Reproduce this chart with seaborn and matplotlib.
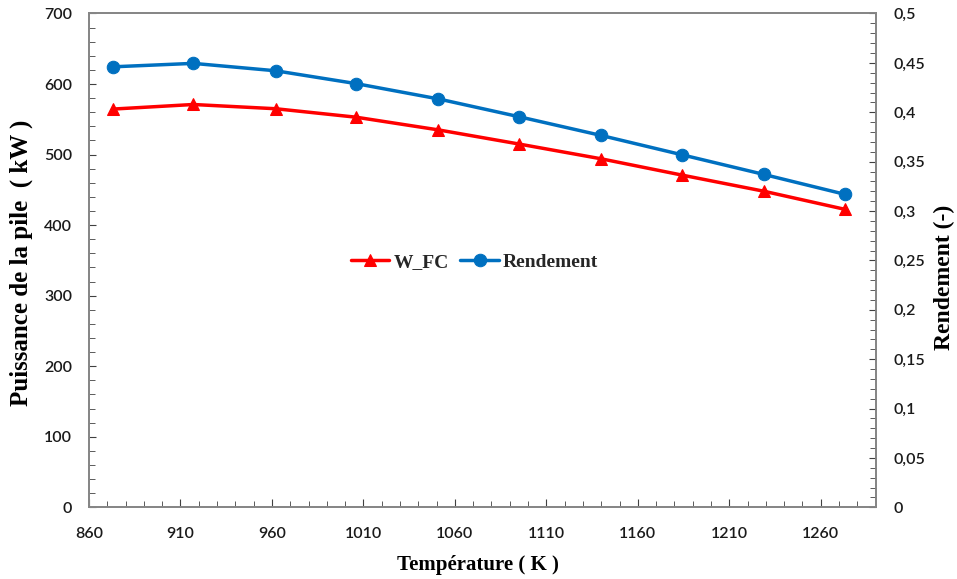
import matplotlib
matplotlib.use("Agg")
import matplotlib.pyplot as plt
import matplotlib.ticker as mticker
import seaborn as sns
import pandas as pd

# Data
temperature = [873, 917, 962, 1006, 1051, 1095, 1140, 1184, 1229, 1273]
w_fc = [564.5, 571, 565, 553, 535, 515, 494, 471, 448, 422.5]
rendement = [0.446, 0.4495, 0.442, 0.429, 0.4135, 0.3955, 0.3765, 0.357, 0.337, 0.317]
x_ticks = [860, 910, 960, 1010, 1060, 1110, 1160, 1210, 1260]

df = pd.DataFrame({"T": temperature, "W_FC": w_fc, "Rendement": rendement})

sns.set_style("white")
plt.rcParams["font.family"] = ["Lato", "DejaVu Sans"]

fig = plt.figure(figsize=(9.57, 5.79), dpi=100)
ax = fig.add_axes([0.093, 0.1238, 0.915 - 0.093, 0.9767 - 0.1238])
ax2 = ax.twinx()

red = "#FF0000"
blue = "#0070C0"
sns.lineplot(data=df, x="T", y="W_FC", ax=ax, color=red, marker="^",
             markersize=9, markeredgecolor=red, linewidth=2.5, label="W_FC",
             legend=False)
sns.lineplot(data=df, x="T", y="Rendement", ax=ax2, color=blue, marker="o",
             markersize=9, markeredgecolor=blue, linewidth=2.5, label="Rendement",
             legend=False)

ax.set_xlim(860, 1290)
ax.set_ylim(0, 700)
ax2.set_ylim(0, 0.5)

ax.set_xticks(x_ticks)
ax.xaxis.set_minor_locator(mticker.MultipleLocator(10))
ax.yaxis.set_major_locator(mticker.MultipleLocator(100))
ax.yaxis.set_minor_locator(mticker.MultipleLocator(20))
ax2.yaxis.set_major_locator(mticker.MultipleLocator(0.05))
ax2.yaxis.set_minor_locator(mticker.MultipleLocator(0.01))
ax2.yaxis.set_major_formatter(mticker.FuncFormatter(lambda v, p: ("%g" % round(v, 3)).replace(".", ",")))

spine_col = "#868686"
for a in (ax, ax2):
    for s in a.spines.values():
        s.set_color(spine_col)
        s.set_linewidth(1.3)

tick_font = dict(labelsize=11.5, labelcolor="#1a1a1a")
ax.tick_params(axis="x", which="both", direction="in", color="#404040", pad=14, **tick_font)
ax.tick_params(axis="x", which="major", length=6)
ax.tick_params(axis="x", which="minor", length=4)
ax.tick_params(axis="y", which="both", direction="in", color="#404040", pad=12, **tick_font)
ax.tick_params(axis="y", which="major", length=5, left=True)
ax.tick_params(axis="y", which="minor", length=4, left=True)
ax.tick_params(axis="x", which="both", bottom=True)
ax2.tick_params(axis="y", which="both", direction="in", color="#404040", pad=13, right=True, **tick_font)
ax2.tick_params(axis="y", which="major", length=5)
ax2.tick_params(axis="y", which="minor", length=4)

for lab in ax.get_xticklabels() + ax.get_yticklabels() + ax2.get_yticklabels():
    lab.set_fontweight("semibold")

label_font = dict(family=["Liberation Serif", "DejaVu Serif"], fontweight="bold", color="black")
ax.set_xlabel("Température ( K )", fontsize=15, **label_font)
ax.set_ylabel("Puissance de la pile  ( kW )", fontsize=18, **label_font)
ax2.set_ylabel("Rendement (-)", fontsize=17, rotation=90, **label_font)
ax.xaxis.set_label_coords(0.495, -0.117)
ax.yaxis.set_label_coords(-0.0864, 0.495)
ax2.yaxis.set_label_coords(1.087, 0.466)
ax2.yaxis.label.set_va("center")
ax.yaxis.label.set_va("center")
ax.xaxis.label.set_va("center")

h1, l1 = ax.get_legend_handles_labels()
h2, l2 = ax2.get_legend_handles_labels()
ax2.legend(h1 + h2, l1 + l2, loc="center", bbox_to_anchor=(0.49, 0.497),
           ncol=2, frameon=False, handlelength=2.0, handletextpad=0.2,
           columnspacing=0.6, prop=dict(family=["Liberation Serif"], weight="bold", size=14))

fig.savefig("out.png", dpi=100)
